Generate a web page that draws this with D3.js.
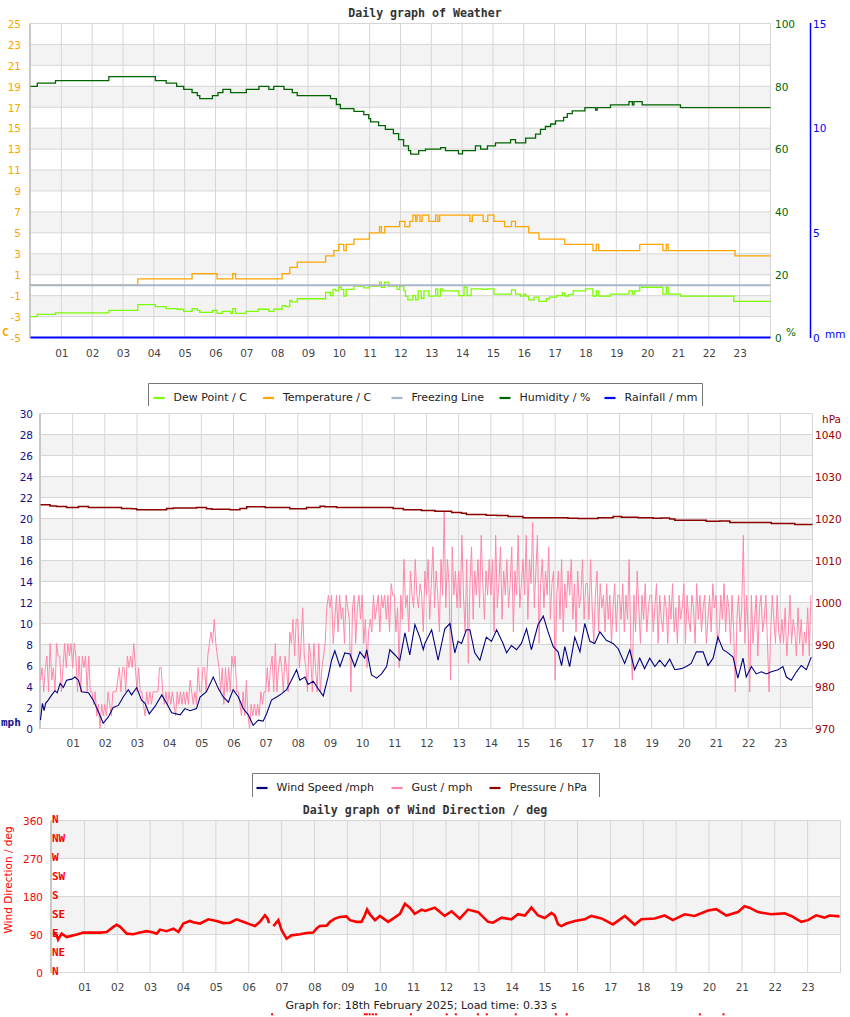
<!DOCTYPE html>
<html><head><meta charset="utf-8">
<script src="https://cdn.jsdelivr.net/npm/d3@7"></script>
<style>body{margin:0;background:#fff}svg{display:block}</style>
</head><body><svg id="c" width="850" height="1017"></svg>
<script>
// ---------------- DATA ----------------
const hours = [1,2,3,4,5,6,7,8,9,10,11,12,13,14,15,16,17,18,19,20,21,22,23];
const hourLabels = ["01","02","03","04","05","06","07","08","09","10","11","12","13","14","15","16","17","18","19","20","21","22","23"];
const tempTicks = [-5,-3,-1,1,3,5,7,9,11,13,15,17,19,21,23,25];
const humTicks = [0,20,40,60,80,100];
const rainTicks = [0,5,10,15];
const windTicks = [0,2,4,6,8,10,12,14,16,18,20,22,24,26,28,30];
const pressTicks = [970,980,990,1000,1010,1020,1030,1040];
const dirTicks = [0,90,180,270,360];
const compassLabels = ["N","NE","E","SE","S","SW","W","NW","N"];
const compassDeg = [0,45,90,135,180,225,270,315,360];

// [hour, value] step series
const temperature = [[0,0.0],[3.48,0.6],[5.24,1.1],[6.05,0.6],[6.56,1.1],[6.65,0.6],[8.16,1.1],[8.41,1.7],[8.65,2.2],[9.57,2.8],[9.84,3.3],[10.0,3.9],[10.16,3.3],[10.24,3.9],[10.49,4.4],[10.99,5.0],[11.32,5.6],[11.38,5.0],[11.49,5.6],[11.97,6.1],[12.14,5.6],[12.3,6.1],[12.4,6.7],[12.49,6.1],[12.54,6.7],[12.63,6.1],[12.7,6.7],[12.92,6.1],[13.14,6.7],[13.21,6.1],[13.27,6.7],[14.25,6.1],[14.33,6.7],[14.68,6.1],[14.83,6.7],[15.03,6.1],[15.38,5.6],[15.6,6.1],[15.73,5.6],[16.16,5.0],[16.49,4.4],[17.33,3.9],[18.24,3.3],[18.35,3.9],[18.43,3.3],[19.76,3.9],[20.51,3.3],[20.62,3.9],[20.68,3.3],[22.85,2.8],[24,2.8]];
const dewPoint = [[0,-3.0],[0.22,-2.8],[0.81,-2.65],[2.54,-2.4],[3.48,-1.85],[4.05,-2.05],[4.4,-2.25],[4.76,-2.3],[4.97,-2.5],[5.24,-2.25],[5.41,-2.4],[5.49,-2.6],[5.9,-2.4],[6.05,-2.7],[6.22,-2.5],[6.49,-2.7],[6.56,-2.25],[6.65,-2.7],[6.99,-2.5],[7.38,-2.3],[7.73,-2.5],[7.89,-2.3],[8.16,-1.95],[8.27,-2.05],[8.41,-1.45],[8.47,-1.6],[8.65,-1.3],[9.57,-0.7],[9.73,-1.0],[9.81,-0.4],[9.89,-0.55],[10.0,-0.2],[10.08,-0.4],[10.16,-1.05],[10.24,-0.4],[10.49,-0.1],[10.81,-0.25],[10.99,-0.1],[11.32,0.3],[11.38,-0.2],[11.49,0.3],[11.62,-0.1],[11.89,-0.4],[11.97,-0.1],[12.11,-0.55],[12.16,-1.05],[12.24,-1.4],[12.4,-1.0],[12.49,-1.4],[12.57,-0.55],[12.67,-1.25],[12.76,-0.55],[12.92,-1.05],[13.14,-0.35],[13.21,-1.05],[13.3,-0.35],[13.37,-0.55],[13.89,-1.0],[14.06,-0.2],[14.16,-1.0],[14.29,-0.35],[14.65,-0.4],[14.81,-0.35],[15.03,-0.85],[15.6,-0.45],[15.73,-0.85],[15.89,-1.05],[16.0,-0.85],[16.06,-1.05],[16.16,-1.4],[16.33,-1.15],[16.49,-1.55],[16.73,-1.3],[16.83,-1.15],[17.06,-1.0],[17.25,-0.75],[17.33,-1.05],[17.46,-0.9],[17.6,-0.55],[18.0,-0.35],[18.24,-1.05],[18.35,-0.55],[18.43,-1.05],[18.81,-0.85],[19.41,-0.55],[19.52,-0.85],[19.6,-0.55],[19.76,0.0],[19.82,-0.2],[20.51,-0.85],[20.62,-0.2],[20.68,-0.85],[21.08,-1.05],[22.81,-1.55],[24,-1.55]];
const humidity = [[0,80.0],[0.22,81.0],[0.81,81.8],[2.54,83.1],[4.05,81.8],[4.4,81.0],[4.74,80.0],[4.97,79.0],[5.24,78.0],[5.41,77.0],[5.49,76.1],[5.9,77.0],[6.08,78.0],[6.24,79.0],[6.49,78.0],[7.0,79.0],[7.41,80.0],[7.73,79.0],[7.89,80.0],[8.22,79.0],[8.49,78.0],[8.65,77.0],[9.73,76.1],[9.92,74.2],[10.05,72.9],[10.49,72.0],[10.81,71.0],[10.97,69.7],[11.03,68.7],[11.29,67.5],[11.51,66.3],[11.77,64.9],[11.94,63.0],[12.1,61.0],[12.26,59.5],[12.33,58.4],[12.59,59.5],[12.81,60.0],[13.3,60.5],[13.46,59.5],[13.88,58.5],[14.01,59.5],[14.43,61.0],[14.6,60.0],[14.82,61.0],[15.08,62.0],[15.57,63.0],[15.73,62.0],[16.06,63.5],[16.38,64.8],[16.54,66.3],[16.7,67.2],[16.87,68.0],[17.03,69.0],[17.29,70.1],[17.41,71.3],[17.57,72.2],[17.98,73.2],[18.33,72.4],[18.38,73.2],[18.81,74.1],[19.41,75.1],[19.52,74.1],[19.57,75.1],[19.84,74.1],[21.08,73.2],[24,73.2]];
const rainfall = [[0,0],[24,0]];
const freezing = [[0,0],[24,0]];

const windSpeed = [[0,0.8],[0.06,2.4],[0.11,1.7],[0.16,2.4],[0.24,2.7],[0.35,3.2],[0.45,3.6],[0.52,3.4],[0.61,4.3],[0.71,3.9],[0.81,4.6],[0.97,4.7],[1.07,4.9],[1.18,4.6],[1.28,3.5],[1.49,3.4],[1.64,2.7],[1.8,1.6],[1.95,0.5],[2.11,1.1],[2.26,2.0],[2.42,2.2],[2.57,3.0],[2.73,3.7],[2.83,3.2],[2.99,3.9],[3.14,2.7],[3.25,2.4],[3.38,1.4],[3.56,2.1],[3.77,3.2],[3.92,2.4],[4.08,1.5],[4.34,1.3],[4.49,1.9],[4.65,1.7],[4.85,1.9],[4.96,3.0],[5.16,3.5],[5.37,4.9],[5.53,3.8],[5.68,3.0],[5.84,2.5],[5.99,3.7],[6.15,3.0],[6.3,1.9],[6.46,1.3],[6.61,0.3],[6.77,0.8],[6.92,0.7],[7.03,1.4],[7.18,2.7],[7.34,3.0],[7.49,3.3],[7.65,3.7],[7.8,4.6],[7.96,5.6],[8.06,4.6],[8.22,4.9],[8.32,4.2],[8.48,4.5],[8.63,3.8],[8.79,3.1],[8.94,4.9],[9.05,6.5],[9.15,7.4],[9.31,5.9],[9.46,7.2],[9.62,7.1],[9.77,5.9],[9.93,7.3],[10.08,6.7],[10.14,7.5],[10.29,5.1],[10.45,4.8],[10.6,5.2],[10.76,5.9],[10.86,7.5],[11.02,7.0],[11.17,6.5],[11.33,9.1],[11.48,7.0],[11.64,9.9],[11.79,8.7],[11.9,7.5],[11.95,8.1],[12.16,9.4],[12.36,6.5],[12.57,9.5],[12.73,10.0],[12.88,7.2],[12.98,8.3],[13.09,8.1],[13.24,9.4],[13.35,9.4],[13.5,7.2],[13.66,6.5],[13.86,8.7],[14.02,8.3],[14.18,9.4],[14.38,8.1],[14.49,7.2],[14.64,7.9],[14.8,7.5],[14.95,8.1],[15.11,9.5],[15.26,7.5],[15.47,9.9],[15.63,10.7],[15.78,9.2],[15.94,7.8],[16.09,7.3],[16.2,6.0],[16.3,7.8],[16.45,5.9],[16.61,8.7],[16.77,7.3],[16.92,10.0],[17.08,8.3],[17.23,8.1],[17.39,9.2],[17.59,8.4],[17.8,8.1],[17.96,7.6],[18.16,6.2],[18.32,7.5],[18.47,5.6],[18.63,6.7],[18.78,5.7],[18.94,6.7],[19.1,5.9],[19.25,6.5],[19.41,5.9],[19.56,6.6],[19.72,5.6],[19.92,5.7],[20.08,5.9],[20.23,6.2],[20.39,7.3],[20.6,7.3],[20.75,6.0],[20.91,6.7],[21.06,8.7],[21.22,7.5],[21.37,7.2],[21.53,6.8],[21.68,4.8],[21.84,6.7],[21.94,4.9],[22.1,5.9],[22.25,5.2],[22.41,5.4],[22.57,5.2],[22.72,5.4],[22.93,5.6],[23.08,5.9],[23.19,4.9],[23.34,4.6],[23.5,5.4],[23.65,6.0],[23.81,5.6],[23.96,6.8]];

// gust, 20 readings per hour (mph), one row per hour
const gust = [
 4.6,5.8,3.5,5.8,6.9,3.5,8.1,4.6,5.8,3.5,8.1,6.9,6.9,3.5,5.8,8.1,5.8,8.1,6.9,8.1,
 5.8,8.1,6.9,3.5,6.9,3.5,6.9,5.8,6.9,3.5,6.9,3.5,3.5,2.3,3.5,1.2,2.3,0,2.3,1.2,
 2.3,1.2,3.5,2.3,1.2,3.5,3.5,3.5,4.6,5.8,3.5,5.8,5.8,3.5,6.9,5.8,6.9,5.8,8.1,5.8,
 3.5,5.8,3.5,3.5,2.3,1.2,3.5,2.3,3.5,2.3,3.5,3.5,3.5,3.5,5.8,5.8,3.5,2.3,3.5,2.3,
 3.5,2.3,3.5,2.3,1.2,3.5,2.3,3.5,2.3,3.5,2.3,3.5,2.3,4.6,3.5,2.3,3.5,2.3,5.8,3.5,
 3.5,5.8,5.8,3.5,6.9,8.1,9.2,8.1,10.4,8.1,6.9,5.8,3.5,5.8,2.3,5.8,3.5,5.8,3.5,6.9,
 5.8,6.9,3.5,3.5,2.3,1.2,3.5,1.2,4.6,1.2,0,2.3,1.2,2.3,1.2,2.3,1.2,3.5,2.3,3.5,
 3.5,5.8,3.5,5.8,6.9,3.5,8.1,3.5,5.8,6.9,5.8,3.5,6.9,5.8,3.5,9.2,8.1,10.4,6.9,10.4,
 10.4,5.8,8.1,11.5,6.9,5.8,3.5,8.1,6.9,3.5,8.1,5.8,3.5,8.1,3.5,5.8,6.9,8.1,11.5,12.7,
 11.5,12.7,8.1,10.4,12.7,9.2,12.7,10.4,11.5,8.1,12.7,11.5,10.4,3.5,11.5,12.7,8.1,11.5,12.7,10.4,
 12.7,8.1,10.4,5.8,9.2,10.4,9.2,12.7,10.4,11.5,12.7,9.2,12.7,11.5,12.7,10.4,12.7,9.2,13.8,12.7,
 12.7,9.2,11.5,5.8,12.7,10.4,16.1,11.5,12.7,9.2,15.0,12.7,11.5,16.1,12.7,11.5,13.8,12.7,9.2,15.0,
 12.7,16.1,10.4,13.8,17.3,11.5,15.0,12.7,9.2,16.1,12.7,20.7,11.5,16.1,13.8,4.6,17.3,12.7,15.0,11.5,
 15.0,11.5,18.4,12.7,9.2,16.1,6.2,13.8,17.3,10.4,15.0,12.7,16.1,11.5,18.4,13.8,10.4,15.0,12.7,16.1,
 12.7,16.1,9.2,18.4,11.5,13.8,17.3,10.4,15.0,12.7,16.1,11.5,13.8,17.3,9.2,15.0,12.7,18.4,11.5,13.8,
 16.1,12.7,18.4,10.4,16.1,13.8,19.6,11.5,15.0,18.4,8.1,13.8,16.1,11.5,15.0,12.7,17.3,10.4,13.8,15.0,
 4.6,12.7,15.0,10.4,16.1,9.2,13.8,11.5,15.0,12.7,16.1,10.4,13.8,9.2,15.0,11.5,12.7,16.1,10.4,13.8,
 13.8,10.4,16.1,11.5,8.1,12.7,15.0,9.2,13.8,11.5,12.7,9.2,13.8,10.4,12.7,8.1,11.5,13.8,9.2,12.7,
 12.7,10.4,13.8,9.2,12.7,10.4,16.1,8.1,4.6,12.7,9.2,15.0,11.5,8.1,12.7,10.4,13.8,9.2,11.5,12.7,
 12.7,9.2,11.5,13.8,8.1,12.7,10.4,9.2,12.7,11.5,8.1,12.7,10.4,13.8,9.2,11.5,8.1,12.7,10.4,11.5,
 13.8,8.1,12.7,10.4,9.2,12.7,11.5,8.1,13.8,10.4,12.7,9.2,11.5,12.7,8.1,10.4,12.7,9.2,13.8,11.5,
 12.7,8.1,9.2,12.7,10.4,13.8,9.2,12.7,11.5,8.1,12.7,9.2,3.5,10.4,12.7,9.2,11.5,18.4,8.1,12.7,
 9.2,3.5,12.7,8.1,10.4,12.7,6.9,11.5,12.7,9.2,10.4,12.7,8.1,3.5,9.2,12.7,10.4,8.1,12.7,9.2,
 8.1,10.4,8.1,11.5,6.9,9.2,12.7,8.1,10.4,9.2,6.9,11.5,8.1,10.4,6.9,9.2,8.1,11.5,6.9,12.7];
const gustPerHour = 20;

const pressure = [[0,1023.3],[0.3,1023.0],[0.5,1022.85],[0.81,1022.6],[1.18,1022.85],[1.49,1022.6],[2.52,1022.4],[2.83,1022.3],[2.99,1022.1],[3.92,1022.4],[4.13,1022.5],[4.85,1022.6],[5.16,1022.3],[5.32,1022.2],[5.89,1022.1],[6.2,1022.4],[6.41,1022.8],[6.98,1022.6],[7.75,1022.3],[8.27,1022.6],[8.69,1022.9],[8.84,1022.8],[9.2,1022.6],[10.96,1022.4],[11.28,1022.1],[11.84,1021.9],[12.26,1021.74],[12.78,1021.43],[13.09,1021.26],[13.24,1020.95],[13.86,1020.8],[14.18,1020.7],[14.54,1020.5],[15.0,1020.2],[16.4,1020.07],[16.71,1020.0],[17.33,1020.2],[17.8,1020.5],[18.06,1020.3],[18.58,1020.2],[19.04,1020.07],[19.3,1020.1],[19.56,1019.9],[19.72,1019.6],[20.7,1019.35],[21.12,1019.4],[21.43,1019.05],[22.72,1018.8],[23.45,1018.6],[24,1018.6]];

const windDir = [[0.06,94.5],[0.16,88],[0.2,78],[0.31,92],[0.46,84],[0.77,90],[0.97,94.5],[1.48,94.5],[1.68,96],[1.88,108],[1.98,113],[2.09,108],[2.29,92],[2.49,90.6],[2.69,94.5],[2.9,98],[3.1,94.5],[3.2,92],[3.3,101.6],[3.5,97.7],[3.71,104],[3.86,96],[4.01,116],[4.21,122],[4.31,119],[4.52,116],[4.77,126],[5.02,122],[5.23,117],[5.43,118],[5.63,126],[5.83,120],[6.04,114],[6.19,110],[6.34,120],[6.49,135.5],[6.57,128],[6.62,117],[6.68,null],[6.75,110],[6.9,124],[7.0,100],[7.15,80],[7.3,88],[7.56,90.6],[7.76,93.7],[7.96,94.5],[8.06,104],[8.16,110],[8.37,111],[8.47,120],[8.62,127.6],[8.77,131.5],[8.97,133],[9.08,124],[9.28,120],[9.43,120],[9.53,135.5],[9.6,149],[9.68,138],[9.84,124],[9.99,134],[10.24,120],[10.39,127.6],[10.6,139],[10.75,163],[10.9,153.6],[11.05,139],[11.26,149],[11.36,145.7],[11.66,153.6],[11.96,134],[12.17,145],[12.42,127.6],[12.67,149],[12.98,143],[13.28,120],[13.43,118],[13.69,130],[13.99,126],[14.19,138],[14.4,135],[14.6,153.6],[14.8,135],[15.0,129],[15.21,141],[15.31,135],[15.41,114],[15.51,110],[15.66,116],[15.92,122],[16.22,126],[16.42,134],[16.73,128],[17.08,114],[17.44,134],[17.74,113],[17.94,126],[18.35,128],[18.65,135],[18.9,124],[19.26,138],[19.56,134],[19.97,147],[20.22,150],[20.53,135],[20.88,143],[21.08,157],[21.23,153.6],[21.49,143],[21.89,138],[22.3,140],[22.5,134],[22.81,120],[23.01,124],[23.26,135.5],[23.51,130],[23.67,135],[23.97,133]];
const dirMissing = [6.71,9.53,9.59,9.68,9.78,9.87,10.93,12.02,12.3,12.97,13.24,14.12,15.34,15.67,19.72,20.44];

// ---------------- DRAWING ----------------
const svg = d3.select("#c");
const SANS = '"DejaVu Sans", Verdana, sans-serif';
const MONO = '"DejaVu Sans Mono", monospace';
const GRID = "#d6d6d6", BAND = "#f3f3f3";

function frame(x, y, ticks, labelY) {
  const g = svg.append("g");
  const [x0, x1] = x.range(), [yb, yt] = y.range();
  for (let i = 1; i < ticks.length - 1; i += 2)
    g.append("rect").attr("x", x0).attr("y", y(ticks[i + 1])).attr("width", x1 - x0)
      .attr("height", y(ticks[i]) - y(ticks[i + 1])).attr("fill", BAND);
  ticks.forEach(t => g.append("line").attr("x1", x0).attr("x2", x1).attr("y1", y(t)).attr("y2", y(t)).attr("stroke", GRID));
  hours.concat([24]).forEach(h => g.append("line").attr("x1", x(h)).attr("x2", x(h)).attr("y1", yt).attr("y2", yb).attr("stroke", GRID));
  g.append("line").attr("x1", x0 - 0.5).attr("x2", x0 - 0.5).attr("y1", yt).attr("y2", yb + 0.5).attr("stroke", "#c8c8c8").attr("stroke-width", 2);
  const ax = g.append("g").attr("transform", `translate(0,${labelY})`)
    .call(d3.axisBottom(x).tickValues(hours).tickFormat((d, i) => hourLabels[i]).tickSize(0).tickPadding(0));
  ax.select(".domain").remove();
  ax.selectAll("text").attr("fill", "#444").attr("font-family", SANS).attr("font-size", "10.5px").attr("dy", "0.35em");
  return g;
}
function yLabels(y, ticks, xpos, side, color, fmt) {
  const gen = side === "left" ? d3.axisLeft(y) : d3.axisRight(y);
  const ax = svg.append("g").attr("transform", `translate(${xpos},0)`)
    .call(gen.tickValues(ticks).tickSize(0).tickPadding(0).tickFormat(fmt || (d => d)));
  ax.select(".domain").remove();
  ax.selectAll("text").attr("fill", color).attr("font-family", SANS).attr("font-size", "10.5px").attr("dy", "0.36em");
  return ax;
}
function txt(x, y, s, o) {
  o = o || {};
  return svg.append("text").attr("x", x).attr("y", y).text(s)
    .attr("font-family", o.mono ? MONO : SANS).attr("font-size", o.size || "11px")
    .attr("font-weight", o.bold ? "bold" : "normal").attr("fill", o.color || "#222")
    .attr("text-anchor", o.anchor || "start");
}

// ===== TOP CHART =====
const xA = d3.scaleLinear([0, 24], [30.5, 770.5]);
const yT = d3.scaleLinear([-5, 25], [337.5, 23.5]);
const yH = d3.scaleLinear([0, 100], [337.5, 23.5]);
const yR = d3.scaleLinear([0, 15], [337.5, 23.5]);
frame(xA, yT, tempTicks, 353);
txt(425, 17, "Daily graph of Weather", {mono: true, bold: true, size: "11.6px", color: "#333", anchor: "middle"});
yLabels(yT, tempTicks, 21, "left", "#FFA500");
yLabels(yH, humTicks, 775, "right", "#006600");
svg.append("line").attr("x1", 810.5).attr("x2", 810.5).attr("y1", 23).attr("y2", 338).attr("stroke", "#0000ff").attr("stroke-width", 1.5);
yLabels(yR, rainTicks, 813, "right", "#0000ff");
txt(2, 336, "C", {mono: true, bold: true, color: "#FFA500", size: "11px"});
txt(786, 336, "%", {color: "#006600", size: "10.5px"});
txt(825, 338, "mm", {color: "#0000ff", size: "10.5px"});

const stepLine = (x, y) => d3.line().x(d => x(d[0])).y(d => y(d[1])).curve(d3.curveStepAfter);
svg.append("path").datum(dewPoint).attr("d", stepLine(xA, yT)).attr("fill", "none").attr("stroke", "#7CFC00").attr("stroke-width", 1.3);
svg.append("path").datum(temperature).attr("d", stepLine(xA, yT)).attr("fill", "none").attr("stroke", "#FFA500").attr("stroke-width", 1.3);
svg.append("path").datum(freezing).attr("d", stepLine(xA, yT)).attr("fill", "none").attr("stroke", "#a8b4c8").attr("stroke-width", 2);
svg.append("path").datum(humidity).attr("d", stepLine(xA, yH)).attr("fill", "none").attr("stroke", "#006400").attr("stroke-width", 1.3);
svg.append("path").datum(rainfall).attr("d", stepLine(xA, yR)).attr("fill", "none").attr("stroke", "#0000ff").attr("stroke-width", 2);

// ===== MIDDLE CHART =====
const xB = d3.scaleLinear([0, 24], [40.5, 812.5]);
const yW = d3.scaleLinear([0, 30], [728.5, 413.5]);
const yP = d3.scaleLinear([970, 1045], [728.5, 413.5]);
frame(xB, yW, windTicks, 743);
yLabels(yW, windTicks, 33, "left", "#101088");
yLabels(yP, pressTicks, 815, "right", "#990000");
txt(822, 423, "hPa", {color: "#990000", size: "10.5px"});
txt(1, 726, "mph", {mono: true, bold: true, color: "#101088", size: "11px"});
const gustPts = gust.map((v, i) => [i / gustPerHour, v]);
svg.append("path").datum(gustPts).attr("d", d3.line().x(d => xB(d[0])).y(d => yW(d[1]))).attr("fill", "none").attr("stroke", "#ff88aa").attr("stroke-width", 1);
svg.append("path").datum(windSpeed).attr("d", d3.line().x(d => xB(d[0])).y(d => yW(d[1]))).attr("fill", "none").attr("stroke", "#000080").attr("stroke-width", 1.1);
svg.append("path").datum(pressure).attr("d", stepLine(xB, yP)).attr("fill", "none").attr("stroke", "#8B0000").attr("stroke-width", 1.5);

// ===== BOTTOM CHART =====
const xC = d3.scaleLinear([0, 24], [51.5, 840.5]);
const yD = d3.scaleLinear([0, 360], [972.5, 820.5]);
frame(xC, yD, dirTicks, 987);
txt(425, 814, "Daily graph of Wind Direction / deg", {mono: true, bold: true, size: "11.6px", color: "#333", anchor: "middle"});
yLabels(yD, dirTicks, 43, "left", "#ff0000");
compassLabels.forEach((c, i) => txt(52, yD(compassDeg[i]) + 2, c, {mono: true, bold: true, color: "#ff0000", size: "11px"}));
svg.append("text").attr("transform", "translate(12,880) rotate(-90)").attr("text-anchor", "middle")
  .attr("font-family", SANS).attr("font-size", "10.5px").attr("fill", "#ff0000").text("Wind Direction / deg");
svg.append("path").datum(windDir).attr("d", d3.line().defined(d => d[1] !== null).x(d => xC(d[0])).y(d => yD(d[1])))
  .attr("fill", "none").attr("stroke", "#ff0000").attr("stroke-width", 2.6);
svg.selectAll(".miss").data(dirMissing).enter().append("rect").attr("class", "miss").attr("x", d => xC(d) - 1).attr("y", yD(-99) - 1)
  .attr("width", 2).attr("height", 2).attr("fill", "#ff0000");

// ===== LEGENDS =====
function legend(x0, x1, y0, y1, items, ty) {
  svg.append("rect").attr("x", x0).attr("y", y0).attr("width", x1 - x0).attr("height", y1 - y0).attr("fill", "#fff");
  svg.append("path").attr("d", `M${x0},${y1}V${y0}H${x1}V${y1}`).attr("fill", "none").attr("stroke", "#777");
  items.forEach(it => {
    svg.append("line").attr("x1", it.x - 20).attr("x2", it.x - 9).attr("y1", ty - 3).attr("y2", ty - 3).attr("stroke", it.c).attr("stroke-width", 2.2);
    txt(it.x, ty, it.t, {size: "11px", color: "#222"});
  });
}
legend(148.5, 702.5, 383.5, 406, [
  {t: "Dew Point / C", c: "#7CFC00", x: 173.5},
  {t: "Temperature / C", c: "#FFA500", x: 283},
  {t: "Freezing Line", c: "#a8b4c8", x: 411.5},
  {t: "Humidity / %", c: "#006400", x: 519.5},
  {t: "Rainfall / mm", c: "#0000ff", x: 624.5}], 401);
legend(252.5, 599.5, 773.5, 797, [
  {t: "Wind Speed /mph", c: "#000080", x: 276.5},
  {t: "Gust / mph", c: "#ff88aa", x: 411.5},
  {t: "Pressure / hPa", c: "#8B0000", x: 509.5}], 791);

txt(421, 1009, "Graph for: 18th February 2025; Load time: 0.33 s", {size: "11px", color: "#222", anchor: "middle"});
</script></body></html>
